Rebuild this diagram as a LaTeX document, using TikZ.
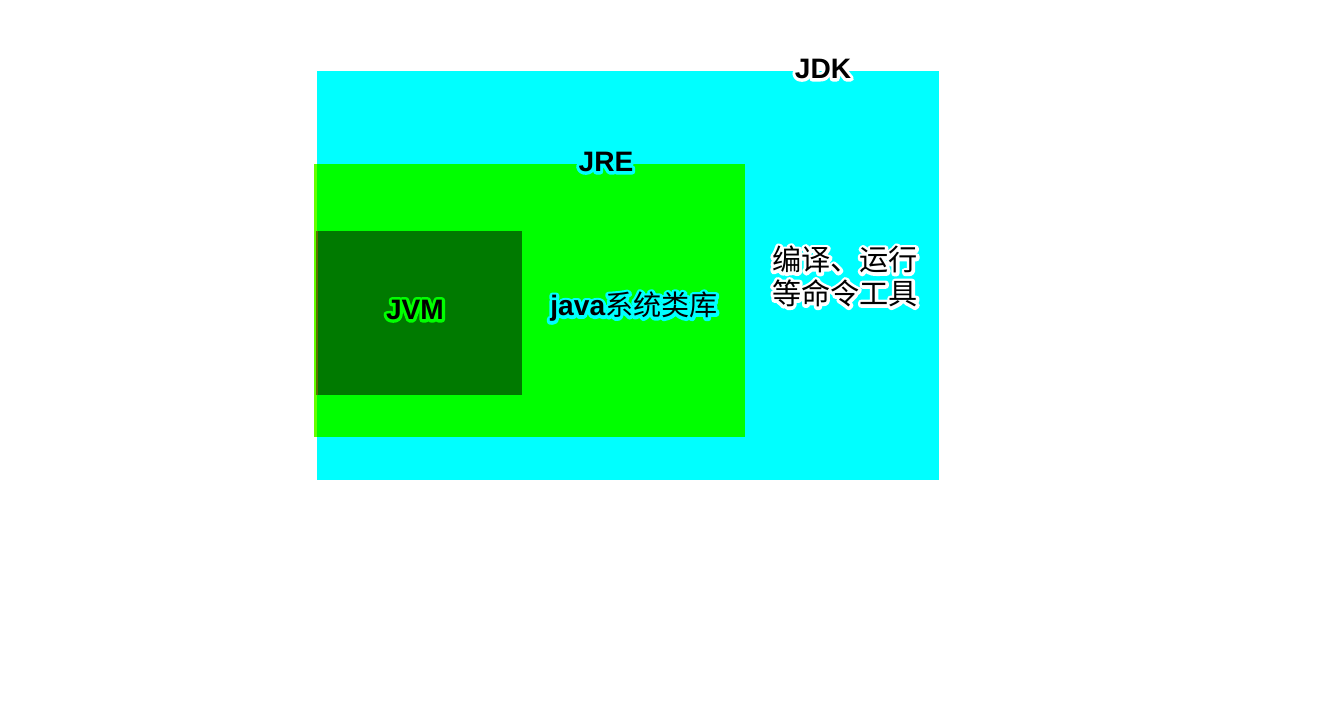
\documentclass[tikz,border=0pt]{standalone}
\usepackage{fontspec}
\setmainfont{Liberation Sans}
\newfontfamily\cjk{Noto Sans CJK SC}
\usetikzlibrary{calc}
\definecolor{jdkcyan}{RGB}{0,255,255}
\definecolor{jregreen}{RGB}{0,255,0}
\definecolor{jvmgreen}{RGB}{0,122,0}
\definecolor{jreedge}{RGB}{100,255,0}
\definecolor{jvmedge}{RGB}{92,112,0}
\def\glowtext#1#2{%
  \makebox[0pt][l]{\special{pdf:code q 1 Tr 3.4 w 1 J 1 j}\textcolor{#1}{#2}\special{pdf:code Q}}#2}
\tikzset{lbl/.style={inner sep=0pt, font=\fontsize{16pt}{17pt}\selectfont}}

\begin{document}
\begin{tikzpicture}[x=0.02cm, y=-0.02cm]
			%%%%% START %%%%%
			\useasboundingbox (0, 0) rectangle (1344, 706);
			\fill[white] (0, 0) rectangle (1344, 706);
			
			\fill[jdkcyan] (317, 71) rectangle (939, 480);
			
			\fill[jreedge] (314, 164) rectangle (317, 437);
			\fill[jregreen] (317, 164) rectangle (745, 437);
			
			\fill[jvmedge] (316, 231) rectangle (317.5, 395);
			\fill[jvmgreen] (317.5, 231) rectangle (522, 395);
			
			\node[lbl] (jdk) at (823, 69) {\glowtext{white}{\bfseries JDK}};
			\node[lbl] (jre) at (606, 162) {\glowtext{jdkcyan}{\bfseries JRE}};
			\node[lbl] (jvm) at (415, 310) {\glowtext{jregreen}{\bfseries JVM}};
			\node[lbl] (lib) at (634, 307) {\glowtext{jdkcyan}{{\bfseries java}{\cjk 系统类库}}};
			
			\node[lbl, font=\fontsize{16.6pt}{17pt}\selectfont] (tools) at (845, 280) {\glowtext{white}{\cjk\begin{tabular}{@{}c@{}}编译、运行\\等命令工具\end{tabular}}};
			
			%%%%% END %%%%%
\end{tikzpicture}
\end{document}
